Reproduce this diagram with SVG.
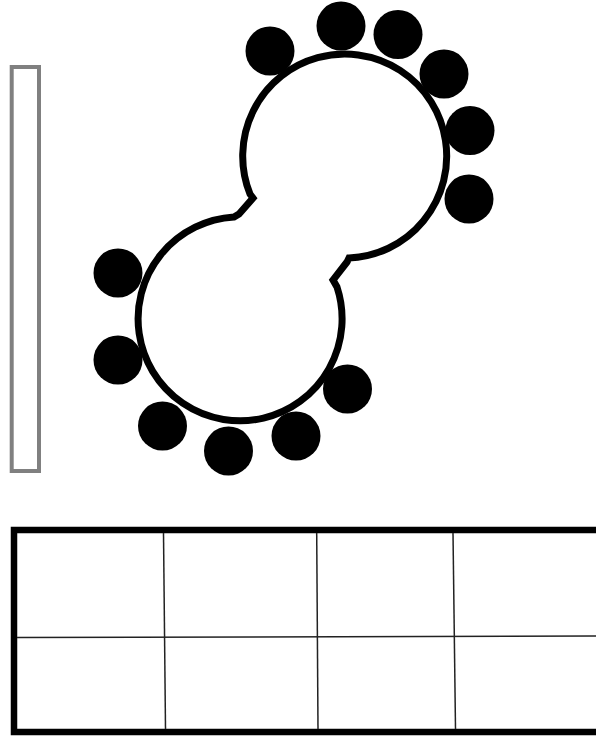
<svg xmlns="http://www.w3.org/2000/svg" width="596" height="737" viewBox="0 0 596 737">
<style>
.chair{fill:#000}
.table{fill:#fff;stroke:#000;stroke-width:7;stroke-linejoin:miter}
.panel{fill:#fff;stroke:#808080;stroke-width:4}
.grid-outer{fill:#fff;stroke:#000;stroke-width:6.5}
.grid-line{stroke:#222;stroke-width:1.5;fill:none}
</style>
<rect width="596" height="737" fill="#fff"/>
<g id="panel">
<rect class="panel" x="11.7" y="67" width="27.3" height="404"/>
</g>
<g id="table">
<path class="table" d="M250,194 A102,102 0 1 1 349,258 L347,262 L333,280 L337,287 A102,102 0 1 1 234,217 L239,214 L253,198 Z"/>
</g>
<g id="chairs">
<circle class="chair" cx="270" cy="51" r="24.5"/>
<circle class="chair" cx="341" cy="26" r="24.5"/>
<circle class="chair" cx="398" cy="34.5" r="24.5"/>
<circle class="chair" cx="444" cy="74" r="24.5"/>
<circle class="chair" cx="470" cy="130.5" r="24.5"/>
<circle class="chair" cx="469" cy="199" r="24.5"/>
<circle class="chair" cx="118" cy="273" r="24.5"/>
<circle class="chair" cx="118" cy="360" r="24.5"/>
<circle class="chair" cx="162.5" cy="426" r="24.5"/>
<circle class="chair" cx="228.5" cy="451" r="24.5"/>
<circle class="chair" cx="296" cy="436" r="24.5"/>
<circle class="chair" cx="347.5" cy="389" r="24.5"/>
</g>
<g id="grid">
<rect class="grid-outer" x="14" y="530" width="600" height="202"/>
<line class="grid-line" x1="17" y1="637.5" x2="596" y2="636"/>
<line class="grid-line" x1="163.5" y1="533" x2="165.5" y2="729"/>
<line class="grid-line" x1="316.7" y1="533" x2="318" y2="729"/>
<line class="grid-line" x1="453" y1="533" x2="455.5" y2="729"/>
</g>
</svg>
